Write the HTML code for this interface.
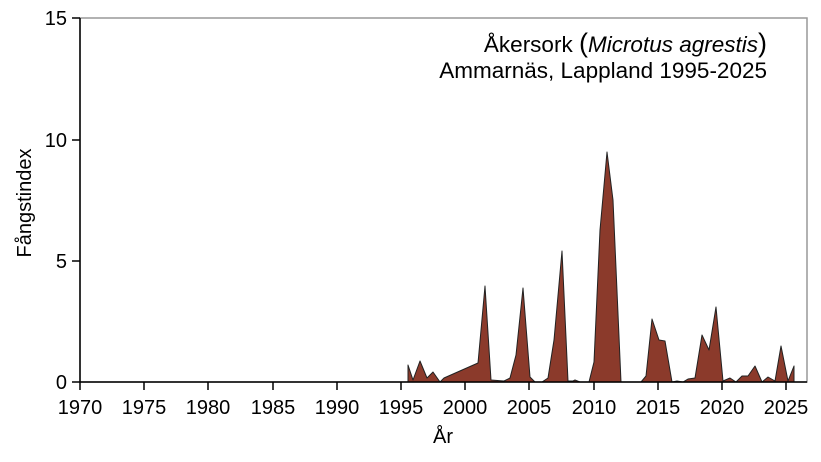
<!DOCTYPE html><html><head><style>body{margin:0;background:#fff}svg{display:block;font-family:"Liberation Sans",sans-serif}</style></head><body>
<svg width="821" height="462" xmlns="http://www.w3.org/2000/svg">
<rect x="80" y="18" width="727" height="364" fill="none" stroke="#999" stroke-width="1.5"/>
<polygon fill="#8B3A2B" stroke="#222" stroke-width="1" stroke-linejoin="round" points="408,382 408,365 413,380 420,361 427,378 433,372 440,382 444,378 478,363 485,286 491,380 504,381 510,378 516,355 523,288 530,377 535,382 542,382 548,378 554,340 562,251 568,381 573,381 575,380 580,382 589,382 594,362 600,230 607,152 613,200 621,382 641,382 646,376 652,319 659,340 665,341 672,382 677,381 683,382 688,379 695,378 702,335 709,350 716,307 723,381 730,378 736,382 742,376 748,376 755,366 762,382 768,377 775,381 781,346 788,381 794,366 794,382"/>
<line x1="80" y1="18" x2="80" y2="382" stroke="#000" stroke-width="1.5"/>
<line x1="80" y1="382" x2="807" y2="382" stroke="#000" stroke-width="1.5"/>
<g stroke="#000" stroke-width="1.5">
<line x1="72" y1="382" x2="80" y2="382"/><line x1="72" y1="261" x2="80" y2="261"/><line x1="72" y1="140" x2="80" y2="140"/><line x1="72" y1="18" x2="80" y2="18"/>
</g>
<g font-size="20" text-anchor="end" fill="#000">
<text x="67" y="389">0</text><text x="67" y="268">5</text><text x="67" y="147">10</text><text x="67" y="25">15</text>
</g>
<g font-size="20" text-anchor="middle" fill="#000">
<text x="80" y="414">1970</text><text x="144" y="414">1975</text><text x="208" y="414">1980</text><text x="273" y="414">1985</text><text x="337" y="414">1990</text><text x="401" y="414">1995</text><text x="465" y="414">2000</text><text x="529" y="414">2005</text><text x="594" y="414">2010</text><text x="658" y="414">2015</text><text x="722" y="414">2020</text><text x="786" y="414">2025</text>
<text x="443" y="443">År</text>
</g>
<g stroke="#000" stroke-width="1.5">
<line x1="80" y1="382" x2="80" y2="390"/><line x1="144" y1="382" x2="144" y2="390"/><line x1="208" y1="382" x2="208" y2="390"/><line x1="273" y1="382" x2="273" y2="390"/><line x1="337" y1="382" x2="337" y2="390"/><line x1="401" y1="382" x2="401" y2="390"/><line x1="465" y1="382" x2="465" y2="390"/><line x1="529" y1="382" x2="529" y2="390"/><line x1="594" y1="382" x2="594" y2="390"/><line x1="658" y1="382" x2="658" y2="390"/><line x1="722" y1="382" x2="722" y2="390"/><line x1="786" y1="382" x2="786" y2="390"/>
</g>
<text x="31" y="203" font-size="20" text-anchor="middle" transform="rotate(-90 31 203)">Fångstindex</text>
<text x="767" y="52" font-size="22.5" text-anchor="end">Åkersork <tspan font-size="27">(</tspan><tspan font-style="italic">Microtus agrestis</tspan><tspan font-size="27">)</tspan></text>
<text x="767" y="78" font-size="22.5" text-anchor="end">Ammarnäs, Lappland 1995-2025</text>
</svg></body></html>
